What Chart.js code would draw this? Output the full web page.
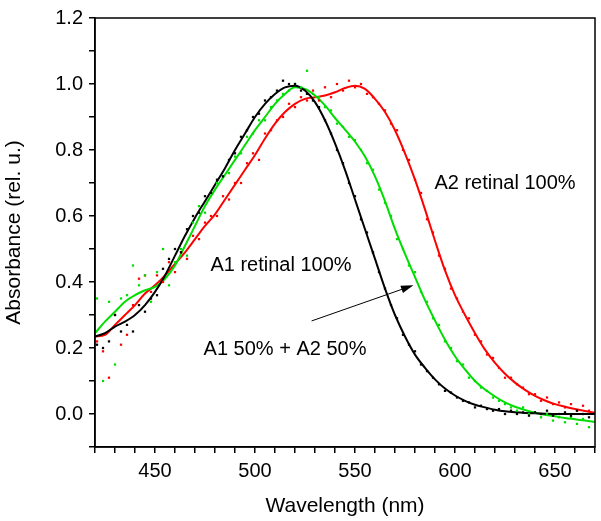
<!DOCTYPE html>
<html lang="en">
<head>
    <meta charset="UTF-8">
    <title>Absorbance spectra</title>
    <script src="https://cdn.jsdelivr.net/npm/chart.js"></script>
    <style>
        body {
            margin: 0;
            padding: 0;
            background-color: #ffffff;
        }

        #chart-container {
            position: relative;
            width: 601px;
            height: 521px;
        }
    </style>
</head>
<body>

    <div id="chart-container">
        <canvas id="spectra-chart"></canvas>
    </div>

    <script>
        // smooth fitted curves, sampled every 5 nm
        const curveX = [420, 425, 430, 435, 440, 445, 450, 455, 460, 465, 470, 475, 480, 485, 490, 495, 500, 505, 510, 515,
            520, 525, 530, 535, 540, 545, 550, 555, 560, 565, 570, 575, 580, 585, 590, 595, 600, 605, 610, 615,
            620, 625, 630, 635, 640, 645, 650, 655, 660, 665, 670];

        const curveA1 = [0.235, 0.245, 0.265, 0.28, 0.30, 0.33, 0.37, 0.42, 0.48, 0.54, 0.595, 0.645, 0.695, 0.745, 0.80, 0.85, 0.90, 0.94, 0.97, 0.99,
            0.995, 0.98, 0.945, 0.89, 0.82, 0.74, 0.65, 0.56, 0.47, 0.38, 0.30, 0.235, 0.18, 0.14, 0.105, 0.077, 0.056, 0.04, 0.028, 0.02,
            0.013, 0.008, 0.005, 0.003, 0.002, 0.001, 0.0, 0.0, 0.0, 0.0, 0.0];

        const curveMix = [0.245, 0.28, 0.31, 0.34, 0.36, 0.375, 0.385, 0.41, 0.45, 0.51, 0.57, 0.63, 0.68, 0.725, 0.77, 0.815, 0.86, 0.90, 0.94, 0.97,
            0.99, 0.985, 0.965, 0.935, 0.897, 0.862, 0.825, 0.78, 0.72, 0.645, 0.56, 0.485, 0.415, 0.345, 0.283, 0.225, 0.175, 0.135, 0.10, 0.074,
            0.053, 0.035, 0.022, 0.012, 0.004, -0.002, -0.007, -0.012, -0.016, -0.02, -0.024];

        const curveA2 = [0.235, 0.24, 0.27, 0.30, 0.33, 0.365, 0.39, 0.42, 0.455, 0.49, 0.53, 0.57, 0.605, 0.65, 0.695, 0.74, 0.785, 0.835, 0.88, 0.915,
            0.94, 0.955, 0.96, 0.965, 0.975, 0.988, 0.995, 0.985, 0.955, 0.915, 0.86, 0.79, 0.71, 0.62, 0.525, 0.435, 0.36, 0.30, 0.245, 0.195,
            0.155, 0.122, 0.095, 0.073, 0.055, 0.041, 0.03, 0.022, 0.015, 0.009, 0.004];

        // measured points, every 3 nm
        const dotX = [421, 424, 427, 430, 433, 436, 439, 442, 445, 448, 451, 454, 457, 460, 463, 466, 469, 472, 475, 478,
            481, 484, 487, 490, 493, 496, 499, 502, 505, 508, 511, 514, 517, 520, 523, 526, 529, 532, 535, 538,
            541, 544, 547, 550, 553, 556, 559, 562, 565, 568, 571, 574, 577, 580, 583, 586, 589, 592, 595, 598,
            601, 604, 607, 610, 613, 616, 619, 622, 625, 628, 631, 634, 637, 640, 643, 646, 649, 652, 655, 658,
            661, 664, 667];

        const dotsA1 = [0.21, 0.20, 0.22, 0.30, 0.25, 0.27, 0.25, 0.33, 0.31, 0.35, 0.36, 0.44, 0.47, 0.50, 0.49, 0.56, 0.60, 0.61, 0.66, 0.67,
            0.71, 0.72, 0.77, 0.79, 0.84, 0.86, 0.90, 0.91, 0.95, 0.96, 0.98, 1.01, 1.00, 1.00, 0.98, 0.97, 0.95, 0.93, 0.89, 0.85,
            0.80, 0.76, 0.70, 0.66, 0.59, 0.55, 0.49, 0.43, 0.38, 0.33, 0.29, 0.24, 0.21, 0.19, 0.15, 0.13, 0.11, 0.09, 0.07, 0.065,
            0.05, 0.04, 0.035, 0.02, 0.025, 0.015, 0.01, 0.015, 0.0, 0.01, 0.0, 0.005, -0.005, 0.005, 0.0, 0.01, -0.005, 0.0, 0.005, -0.005,
            0.01, 0.0, -0.01];

        const dotsMix = [0.35, 0.10, 0.34, 0.15, 0.35, 0.36, 0.45, 0.39, 0.42, 0.34, 0.43, 0.50, 0.39, 0.46, 0.50, 0.48, 0.58, 0.63, 0.61, 0.67,
            0.70, 0.72, 0.73, 0.78, 0.79, 0.84, 0.85, 0.89, 0.89, 0.93, 0.95, 0.97, 0.98, 1.00, 0.99, 1.04, 0.97, 0.96, 0.93, 0.92,
            0.88, 0.87, 0.84, 0.83, 0.80, 0.76, 0.74, 0.68, 0.64, 0.60, 0.53, 0.50, 0.45, 0.43, 0.37, 0.34, 0.29, 0.27, 0.22, 0.20,
            0.16, 0.15, 0.11, 0.10, 0.08, 0.07, 0.05, 0.04, 0.03, 0.02, 0.01, 0.02, 0.0, 0.005, -0.01, 0.0, -0.02, -0.01, -0.025, -0.01,
            -0.03, -0.015, -0.04];

        const dotsA2 = [0.22, 0.19, 0.11, 0.30, 0.21, 0.24, 0.33, 0.41, 0.42, 0.37, 0.42, 0.40, 0.46, 0.43, 0.49, 0.47, 0.54, 0.53, 0.58, 0.60,
            0.60, 0.66, 0.65, 0.70, 0.70, 0.76, 0.79, 0.77, 0.85, 0.86, 0.89, 0.90, 0.94, 0.93, 0.96, 0.95, 0.98, 0.95, 0.99, 0.96,
            1.00, 0.98, 1.01, 0.99, 1.00, 0.97, 0.96, 0.94, 0.92, 0.88, 0.86, 0.80, 0.77, 0.71, 0.67, 0.59, 0.55, 0.48, 0.44, 0.38,
            0.35, 0.31, 0.29, 0.24, 0.22, 0.18, 0.17, 0.14, 0.11, 0.11, 0.09, 0.08, 0.06, 0.06, 0.04, 0.05, 0.03, 0.035, 0.02, 0.03,
            0.01, 0.025, 0.01];

        const xMin = 420, xMax = 670;
        const yMin = -0.1, yMax = 1.2;

        const BLACK = '#000000';
        const GREEN = '#00dd00';
        const RED = '#ff0000';

        const toPoints = (xs, ys) => xs.map((x, i) => ({ x: x, y: ys[i] }));

        function dotSet(label, ys, color) {
            return {
                label: label,
                data: toPoints(dotX, ys),
                showLine: false,
                pointStyle: 'rect',
                pointRadius: 1.6,
                backgroundColor: color,
                borderColor: color,
                borderWidth: 0
            };
        }

        function curveSet(label, ys, color) {
            return {
                label: label,
                data: toPoints(curveX, ys),
                showLine: true,
                pointRadius: 0,
                borderColor: color,
                borderWidth: 2,
                cubicInterpolationMode: 'monotone',
                fill: false
            };
        }

        // text labels + arrow, placed in data coordinates
        const notes = [
            { text: 'A1 retinal 100%', x: 513, y: 0.45 },
            { text: 'A1 50% + A2 50%', x: 515, y: 0.195 },
            { text: 'A2 retinal 100%', x: 625, y: 0.70 }
        ];
        const arrowFrom = { x: 528.3, y: 0.282 };
        const arrowTo = { x: 579.2, y: 0.390 };

        const annotations = {
            id: 'annotations',
            afterDatasetsDraw(chart) {
                const { ctx, chartArea, scales } = chart;
                const sx = scales.x, sy = scales.y;
                ctx.save();

                // frame on all four sides
                ctx.strokeStyle = '#000';
                ctx.lineWidth = 1.5;
                ctx.strokeRect(chartArea.left, chartArea.top, chartArea.right - chartArea.left, chartArea.bottom - chartArea.top);

                ctx.fillStyle = '#000';
                ctx.font = '20px "Liberation Sans", Arial, sans-serif';
                ctx.textAlign = 'center';
                ctx.textBaseline = 'middle';
                notes.forEach(n => {
                    ctx.fillText(n.text, sx.getPixelForValue(n.x), sy.getPixelForValue(n.y));
                });

                const x1 = sx.getPixelForValue(arrowFrom.x), y1 = sy.getPixelForValue(arrowFrom.y);
                const x2 = sx.getPixelForValue(arrowTo.x), y2 = sy.getPixelForValue(arrowTo.y);
                const ang = Math.atan2(y2 - y1, x2 - x1);
                ctx.lineWidth = 1;
                ctx.beginPath();
                ctx.moveTo(x1, y1);
                ctx.lineTo(x2 - 8 * Math.cos(ang), y2 - 8 * Math.sin(ang));
                ctx.stroke();
                ctx.beginPath();
                ctx.moveTo(x2, y2);
                ctx.lineTo(x2 - 13 * Math.cos(ang - 0.3), y2 - 13 * Math.sin(ang - 0.3));
                ctx.lineTo(x2 - 13 * Math.cos(ang + 0.3), y2 - 13 * Math.sin(ang + 0.3));
                ctx.closePath();
                ctx.fill();

                ctx.restore();
            }
        };

        const tickFont = { family: '"Liberation Sans", Arial, sans-serif', size: 20 };
        const titleFont = { family: '"Liberation Sans", Arial, sans-serif', size: 21 };

        new Chart(document.getElementById('spectra-chart'), {
            type: 'scatter',
            data: {
                datasets: [
                    dotSet('A1 dots', dotsA1, BLACK),
                    dotSet('Mix dots', dotsMix, GREEN),
                    dotSet('A2 dots', dotsA2, RED),
                    curveSet('A1 retinal 100%', curveA1, BLACK),
                    curveSet('A1 50% + A2 50%', curveMix, GREEN),
                    curveSet('A2 retinal 100%', curveA2, RED)
                ]
            },
            options: {
                responsive: true,
                maintainAspectRatio: false,
                animation: false,
                layout: {
                    padding: { top: 14, right: 6, left: 0, bottom: 0 }
                },
                plugins: {
                    legend: { display: false },
                    tooltip: { enabled: false }
                },
                scales: {
                    x: {
                        type: 'linear',
                        min: xMin,
                        max: xMax,
                        afterFit: (scale) => { scale.height = 74; },
                        border: { display: true, color: '#000', width: 1.5 },
                        grid: { drawOnChartArea: false, drawTicks: true, tickLength: 6, color: '#000', lineWidth: 1.5 },
                        ticks: {
                            stepSize: 10,
                            color: '#000',
                            font: tickFont,
                            padding: 6,
                            maxRotation: 0,
                            autoSkip: false,
                            callback: (v) => (v % 50 === 0 ? String(v) : '')
                        },
                        title: {
                            display: true,
                            text: 'Wavelength (nm)',
                            color: '#000',
                            font: titleFont,
                            padding: { top: 4, bottom: 2 }
                        }
                    },
                    y: {
                        type: 'linear',
                        min: yMin,
                        max: yMax,
                        afterFit: (scale) => { scale.width = 95; },
                        border: { display: true, color: '#000', width: 1.5 },
                        grid: { drawOnChartArea: false, drawTicks: true, tickLength: 6, color: '#000', lineWidth: 1.5 },
                        ticks: {
                            stepSize: 0.1,
                            color: '#000',
                            font: tickFont,
                            padding: 6,
                            autoSkip: false,
                            callback: (v) => {
                                const k = Math.round(v * 10);
                                return (k % 2 === 0 && k >= 0) ? (k / 10).toFixed(1) : '';
                            }
                        },
                        title: {
                            display: true,
                            text: 'Absorbance (rel. u.)',
                            color: '#000',
                            font: titleFont,
                            padding: { top: 2, bottom: 4 }
                        }
                    }
                }
            },
            plugins: [annotations]
        });
    </script>

</body>
</html>
